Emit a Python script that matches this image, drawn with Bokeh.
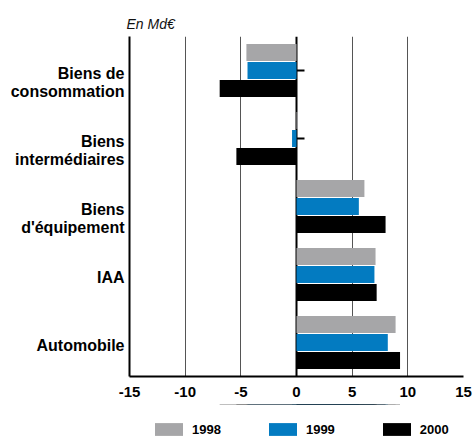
from bokeh.plotting import figure
from bokeh.layouts import column
from bokeh.models import Range1d, LinearAxis, FixedTicker, Legend, LegendItem
from bokeh.embed import file_html
from bokeh.resources import INLINE

# Sectors (top to bottom) and yearly values, in billions of euros
categories = ["Biens de\nconsommation", "Biens\nintermédiaires", "Biens\nd'équipement", "IAA", "Automobile"]
years = ["1998", "1999", "2000"]
v1998 = [-4.5, 0.1, 6.1, 7.1, 8.9]
v1999 = [-4.4, -0.4, 5.6, 7.0, 8.2]
v2000 = [-6.9, -5.4, 8.0, 7.2, 9.3]
x_ticks = [-15, -10, -5, 0, 5, 10, 15]

series = [v1998, v1999, v2000]
colors = ["#a6a6a8", "#037bc1", "#000000"]
offsets = [-0.265, 0.0, 0.265]
FONT = "Liberation Sans"

ypos = list(range(len(categories)))
ROW_PX = 68.0  # height of one sector row on screen

p = figure(width=474, height=404,
           x_range=Range1d(x_ticks[0], x_ticks[-1]),
           y_range=Range1d(len(categories) - 0.5, -0.5),
           output_backend="svg", toolbar_location=None,
           min_border_left=129, min_border_right=11,
           min_border_top=36, min_border_bottom=28,
           title="En Md€")
p.outline_line_color = None
p.background_fill_color = "white"
p.border_fill_color = "white"

# title used as the unit note
p.title.text_font = FONT
p.title.text_font_style = "italic"
p.title.text_font_size = "14px"
p.title.text_color = "#111111"
p.title.align = "left"
p.title.offset = -3
p.title.standoff = 10

# vertical grid lines every 5 (the zero line and left border are drawn by axes)
p.xgrid.ticker = FixedTicker(ticks=[t for t in x_ticks if t not in (0, x_ticks[0])])
p.xgrid.grid_line_color = "#555555"
p.xgrid.grid_line_width = 1
p.ygrid.visible = False

# bottom axis
p.xaxis.ticker = FixedTicker(ticks=x_ticks)
p.xaxis.major_label_overrides = {t: str(t) for t in x_ticks}
p.xaxis.major_label_text_font = FONT
p.xaxis.major_label_text_font_style = "bold"
p.xaxis.major_label_text_font_size = "15px"
p.xaxis.major_label_text_color = "black"
p.xaxis.major_tick_out = 0
p.xaxis.major_tick_in = 0
p.xaxis.minor_tick_line_color = None
p.xaxis.axis_line_width = 2
p.xaxis.axis_line_color = "black"
p.xaxis.major_label_standoff = 10

# left axis: border line plus sector names, one tick per text line
label_ticks = []
label_text = {}
for y, name in zip(ypos, categories):
    for k, line in enumerate(name.split("\n")):
        t = round(y + (3 + 18 * k) / ROW_PX, 4)
        label_ticks.append(t)
        label_text[t] = line
p.yaxis.ticker = FixedTicker(ticks=label_ticks)
p.yaxis.major_label_overrides = label_text
p.yaxis.major_label_text_font = FONT
p.yaxis.major_label_text_font_style = "bold"
p.yaxis.major_label_text_font_size = "16px"
p.yaxis.major_label_text_color = "black"
p.yaxis.major_label_standoff = 5
p.yaxis.major_tick_out = 0
p.yaxis.major_tick_in = 0
p.yaxis.minor_tick_line_color = None
p.yaxis.major_tick_line_color = None
p.yaxis.axis_line_width = 2
p.yaxis.axis_line_color = "black"

# zero line with short category ticks pointing right, beneath the bars
zero_axis = LinearAxis(fixed_location=0, ticker=FixedTicker(ticks=ypos),
                       major_label_overrides={i: "" for i in ypos},
                       major_tick_in=8, major_tick_out=0,
                       major_tick_line_width=2, major_tick_line_color="black",
                       minor_tick_line_color=None,
                       axis_line_width=2, axis_line_color="black",
                       level="underlay")
p.add_layout(zero_axis, "left")

# bars
for vals, col, off in zip(series, colors, offsets):
    p.hbar(y=[y + off for y in ypos], left=0, right=vals, height=0.25,
           fill_color=col, line_color=None)

# legend strip underneath the chart; its zero-height bars draw nothing
# and only feed the legend swatches
leg = figure(width=474, height=33, x_range=p.x_range, y_range=Range1d(-1000, -999),
             x_axis_type=None, y_axis_type=None,
             output_backend="svg", toolbar_location=None,
             min_border_left=0, min_border_right=0,
             min_border_top=0, min_border_bottom=0)
leg.outline_line_color = None
leg.background_fill_color = "white"
leg.border_fill_color = "white"

items = []
for year, vals, col, off in zip(years, series, colors, offsets):
    r = leg.hbar(y=[y + off for y in ypos], left=0, right=vals, height=0,
                 fill_color=col, line_color=None)
    items.append(LegendItem(label=year, renderers=[r]))

# area swatches are inset by 10% of the glyph box, hence the larger box
legend = Legend(items=items, orientation="horizontal", location=(22, 0),
                glyph_width=35, glyph_height=16, label_standoff=6, spacing=44,
                label_height=13, padding=0, margin=0,
                border_line_color=None, background_fill_alpha=0,
                label_text_font=FONT, label_text_font_style="bold",
                label_text_font_size="13px", label_text_color="black")
leg.add_layout(legend, "center")

page = column(p, leg, spacing=0)
open("out.html", "w").write(file_html(page, INLINE))
